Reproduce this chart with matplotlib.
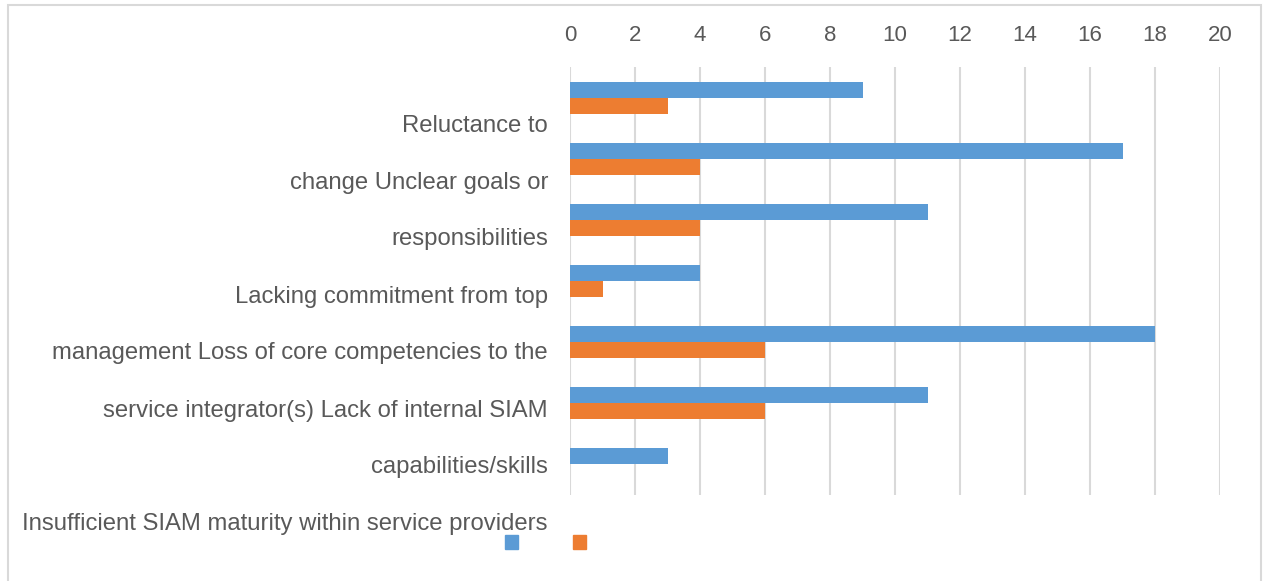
import matplotlib.pyplot as plt
from matplotlib.patches import Patch, Rectangle

# survey counts per challenge (two respondent groups)
categories = ['Reluctance to change', 'Unclear goals or responsibilities',
              'Lacking commitment from top management',
              'Loss of core competencies to the service integrator(s)',
              'Lack of internal SIAM capabilities/skills',
              'Insufficient SIAM maturity within service providers', '']
series_a = [9, 17, 11, 4, 18, 11, 3]
series_b = [3, 4, 4, 1, 6, 6, 0]
x_ticks = list(range(0, 21, 2))

# wrapped label lines as they run down the left side
label_lines = ['Reluctance to', 'change Unclear goals or', 'responsibilities',
               'Lacking commitment from top',
               'management Loss of core competencies to the',
               'service integrator(s) Lack of internal SIAM',
               'capabilities/skills',
               'Insufficient SIAM maturity within service providers']

BLUE = '#5b9bd5'
ORANGE = '#ed7d31'
GREY = '#595959'

plt.rcParams['font.family'] = ['Liberation Sans', 'DejaVu Sans']

W, H = 1263, 581
fig = plt.figure(figsize=(W / 100, H / 100), dpi=100)

# light outer frame of the chart area
fig.patches.append(Rectangle((7.5 / W, -0.05), (1261 - 7.5) / W, 1 - 5.5 / H + 0.05,
                             transform=fig.transFigure, fill=False,
                             edgecolor='#d9d9d9', linewidth=1.5))

ax = fig.add_axes([570 / W, 1 - 495 / H, (1220 - 570) / W, (495 - 67) / H])

n = len(series_a)
pos = list(range(n))
h = 0.262
ax.barh([p - h / 2 for p in pos], series_a, height=h, color=BLUE, zorder=3)
ax.barh([p + h / 2 for p in pos], series_b, height=h, color=ORANGE, zorder=3)

ax.set_xlim(0, 20)
ax.set_ylim(n - 0.5, -0.5)
ax.set_xticks(x_ticks)
ax.xaxis.tick_top()
ax.tick_params(axis='x', length=0, pad=15, labelsize=16, labelcolor=GREY)
ax.set_yticks([])
ax.grid(axis='x', color='#d9d9d9', linewidth=1.5, zorder=0)
for s in ax.spines.values():
    s.set_visible(False)

label_y = [126, 183, 239, 297, 353, 411, 467, 524]
for txt, y in zip(label_lines, label_y):
    fig.text(548 / W, 1 - y / H, txt, ha='right', va='center',
             fontsize=17.2, color=GREY)

handles = [Patch(color=BLUE), Patch(color=ORANGE)]
fig.legend(handles, ['', ''], ncol=2, loc='center',
           bbox_to_anchor=(545.5 / W, 1 - 544 / H), frameon=False,
           handlelength=0.65, handleheight=0.65, handletextpad=0,
           columnspacing=2.6, fontsize=15)

fig.savefig('out.png', dpi=100)
